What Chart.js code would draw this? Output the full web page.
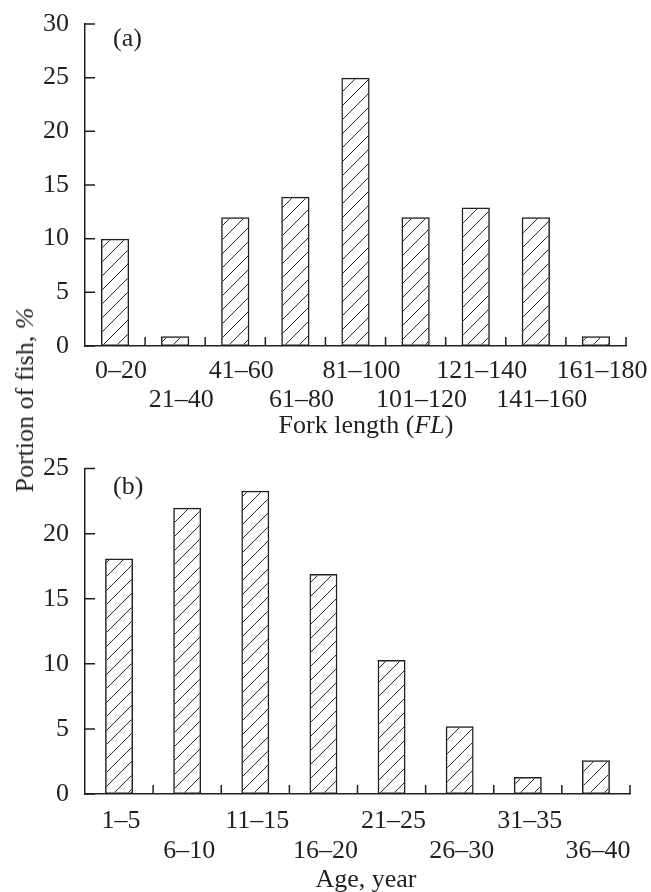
<!DOCTYPE html>
<html>
<head>
<meta charset="utf-8">
<script src="https://cdn.jsdelivr.net/npm/chart.js@4.4.0/dist/chart.umd.min.js"></script>
<style>
  body { margin: 0; background: #fff; width: 651px; height: 892px; position: relative; overflow: hidden; font-family: 'Liberation Serif', serif; color: #231f20; }
  .wrap { position: absolute; left: 0; width: 651px; }
  #wrapA { top: 0; height: 445px; }
  #wrapB { top: 445px; height: 447px; }
  .lbl { position: absolute; white-space: nowrap; font-size: 26px; line-height: 1; }
  #ytitle { left: 25px; top: 400px; transform: translate(-50%, -50%) rotate(-90deg); }
  #xtitleA { left: 366px; top: 425px; transform: translate(-50%, -50%); }
  #xtitleB { left: 366px; top: 879px; transform: translate(-50%, -50%); }
</style>
</head>
<body>
<div class="wrap" id="wrapA"><canvas id="chartA"></canvas></div>
<div class="wrap" id="wrapB"><canvas id="chartB"></canvas></div>
<div class="lbl" id="ytitle">Portion of fish, <i>%</i></div>
<div class="lbl" id="xtitleA">Fork length (<i>FL</i>)</div>
<div class="lbl" id="xtitleB">Age, year</div>
<script>
// Dados
const lengthClasses = ['0–20', '21–40', '41–60', '61–80', '81–100', '101–120', '121–140', '141–160', '161–180'];
const lengthShare = [10, 0.9, 12, 13.9, 25, 12, 12.9, 12, 0.9];
const lengthTicks = [0, 5, 10, 15, 20, 25, 30];

const ageClasses = ['1–5', '6–10', '11–15', '16–20', '21–25', '26–30', '31–35', '36–40'];
const ageShare = [18.1, 22, 23.3, 16.9, 10.3, 5.2, 1.3, 2.6];
const ageTicks = [0, 5, 10, 15, 20, 25];

const INK = '#231f20';
const FONT = 'Liberation Serif';

// Hachura diagonal das barras
function hatch(ctx) {
    const s = 14;
    const c = document.createElement('canvas');
    c.width = s; c.height = s;
    const g = c.getContext('2d');
    g.strokeStyle = '#2a2a2a';
    g.lineWidth = 1;
    g.beginPath();
    g.moveTo(0, s); g.lineTo(s, 0);
    g.moveTo(-s / 2, s / 2); g.lineTo(s / 2, -s / 2);
    g.moveTo(s / 2, s * 1.5); g.lineTo(s * 1.5, s / 2);
    g.stroke();
    return ctx.createPattern(c, 'repeat');
}

// Marcas internas dos eixos + letra do painel
const innerTicks = {
    id: 'innerTicks',
    afterDraw(chart, args, opts) {
        const { ctx, chartArea, scales: { x, y } } = chart;
        ctx.save();
        ctx.strokeStyle = INK;
        ctx.lineWidth = 1.5;
        ctx.beginPath();
        y.ticks.forEach(t => {
            const py = y.getPixelForValue(t.value);
            ctx.moveTo(chartArea.left, py);
            ctx.lineTo(chartArea.left + 10, py);
        });
        for (let i = 0; i < x.ticks.length; i++) {
            const px = x.getPixelForValue(i + 0.5);
            ctx.moveTo(px, chartArea.bottom);
            ctx.lineTo(px, chartArea.bottom - 9);
        }
        ctx.stroke();
        ctx.fillStyle = INK;
        ctx.font = '26px "' + FONT + '"';
        ctx.textBaseline = 'middle';
        ctx.fillText(opts.letter, chartArea.left + 28, chartArea.top + opts.letterOffset);
        ctx.restore();
    }
};

function makeChart(id, cats, vals, tickVals, opt) {
    const canvas = document.getElementById(id);
    const ctx = canvas.getContext('2d');
    return new Chart(ctx, {
        type: 'bar',
        data: {
            labels: cats,
            datasets: [{
                data: vals,
                backgroundColor: hatch(ctx),
                borderColor: INK,
                borderWidth: 1.5,
                borderSkipped: false,
                barPercentage: opt.barPct,
                categoryPercentage: 1
            }]
        },
        options: {
            responsive: true,
            maintainAspectRatio: false,
            animation: false,
            layout: { padding: { top: opt.top, right: opt.right, left: 0, bottom: 0 } },
            plugins: {
                legend: { display: false },
                tooltip: { enabled: false },
                innerTicks: { letter: opt.letter, letterOffset: opt.letterOffset }
            },
            scales: {
                x: {
                    offset: true,
                    grid: { display: false },
                    border: { display: true, color: INK, width: 1.5 },
                    afterFit: s => { s.height = opt.xHeight; },
                    ticks: {
                        autoSkip: false,
                        maxRotation: 0,
                        padding: opt.xPad,
                        labelOffset: opt.labelShift,
                        color: INK,
                        font: { family: FONT, size: 26, lineHeight: opt.lineH },
                        callback: function(value, index) {
                            const lab = this.getLabelForValue(value);
                            return index % 2 === 0 ? [lab, ''] : ['', lab];
                        }
                    }
                },
                y: {
                    min: tickVals[0],
                    max: tickVals[tickVals.length - 1],
                    grid: { display: false },
                    border: { display: true, color: INK, width: 1.5 },
                    afterFit: s => { s.width = 85; },
                    afterBuildTicks: s => { s.ticks = tickVals.map(v => ({ value: v })); },
                    ticks: {
                        padding: 8,
                        color: INK,
                        font: { family: FONT, size: 26 }
                    }
                }
            }
        },
        plugins: [innerTicks]
    });
}

window.addEventListener('DOMContentLoaded', function() {
    makeChart('chartA', lengthClasses, lengthShare, lengthTicks, {
        barPct: 0.47, top: 24, right: 25, xHeight: 99, xPad: 3, lineH: 1.1, labelShift: 6,
        letter: '(a)', letterOffset: 15
    });
    makeChart('chartB', ageClasses, ageShare, ageTicks, {
        barPct: 0.41, top: 23, right: 21, xHeight: 98, xPad: 4, lineH: 1.15, labelShift: 2,
        letter: '(b)', letterOffset: 19
    });
});
</script>
</body>
</html>
